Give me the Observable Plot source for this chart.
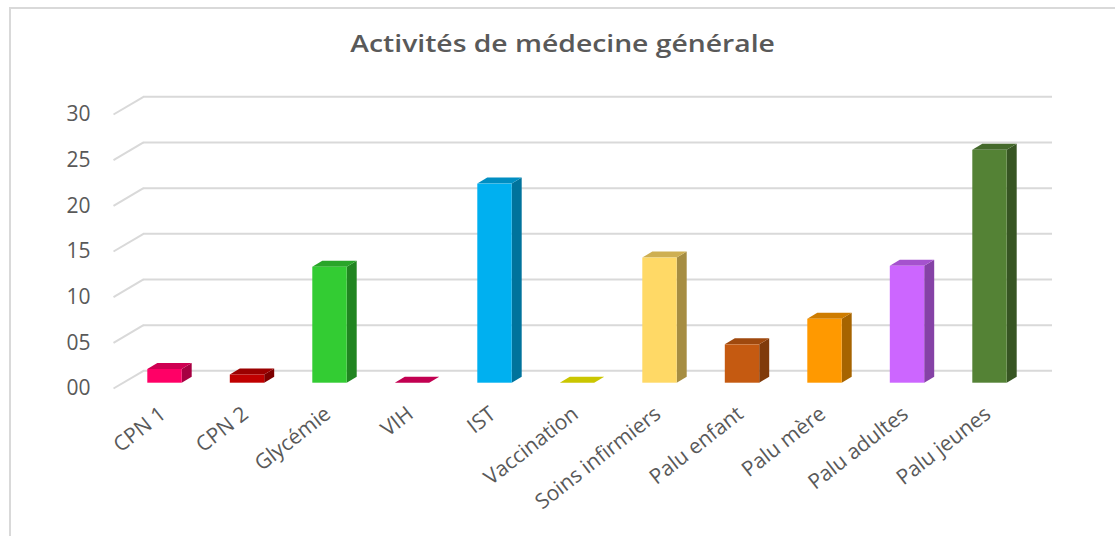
<!DOCTYPE html>
<html>
<head>
<meta charset="utf-8">
<script src="https://cdn.jsdelivr.net/npm/d3@7"></script>
<script src="https://cdn.jsdelivr.net/npm/@observablehq/plot@0.6"></script>
<style>
  html, body { margin: 0; padding: 0; background: #fff; overflow: hidden; }
  body { width: 1115px; height: 536px; position: relative; font-family: "Open Sans", sans-serif; }
  #frame { position: absolute; left: 9px; top: 7px; width: 1130px; height: 560px; border: 2px solid #d9d9d9; box-sizing: border-box; }
  #title { position: absolute; top: 27px; left: 0; width: 1115px; text-align: center; font-size: 23px; font-weight: 600; color: #595959; }
  #title span { display: inline-block; transform: scaleX(1.23); transform-origin: center; margin-left: 11px; }
  #chart { position: absolute; left: 0; top: 70px; }
</style>
</head>
<body>
<div id="frame"></div>
<div id="title"><span>Activités de médecine générale</span></div>
<div id="chart"></div>
<script>
// ---- data ----
const categories = ["CPN 1", "CPN 2", "Glycémie", "VIH", "IST", "Vaccination", "Soins infirmiers", "Palu enfant", "Palu mère", "Palu adultes", "Palu jeunes"];
const values = [1.5, 0.9, 12.7, 0, 21.8, 0, 13.7, 4.2, 7.0, 12.8, 25.5];
const yTicks = [0, 5, 10, 15, 20, 25, 30];
const yTickLabels = ["00", "05", "10", "15", "20", "25", "30"];

// ---- palette (front faces) ----
const palette = ["#ff0066", "#c00000", "#33cc33", "#f00064", "#00b0f0", "#faf500", "#ffd966", "#c55a11", "#ff9900", "#cc66ff", "#548235"];

// ---- layout (pixels) ----
const W = 1115, H = 466;
const step = 82.5;          // px between category centres
const c0 = 164.5;           // page x of first bar centre
const pxPerUnit = 9.133;    // px per value unit
const ML = 100, MR = 55;
const baseSvg = 312.7;      // svg y of value 0 on the bars' front plane
const marginBottom = H - baseSvg;
const marginTop = baseSvg - 30 * pxPerUnit;

const toX = px => px / step;
const toY = px => px / pxPerUnit;

const hw = toX(17.2);          // half bar width
const dX = toX(10), dY = toY(6);  // bar depth
const backX1 = toX(143 - c0), backX2 = toX(1052 - c0);
const frontX = toX(113 - c0);
const backDy = toY(12.4), frontDy = toY(5.3);

const bars = categories.map((cat, i) => {
  const c = d3.color(palette[i]);
  return {cat, i, v: values[i],
    front: c.formatHex(),
    side: c.darker(1.2).formatHex(),
    top: c.darker(0.6).formatHex()};
});

const sidePts = bars.flatMap(d => [
  {cat: d.cat, x: d.i + hw, y1: 0, y2: d.v, fill: d.side},
  {cat: d.cat, x: d.i + hw + dX, y1: dY, y2: d.v + dY, fill: d.side}
]);
const topPts = bars.flatMap(d => [
  {cat: d.cat, x: d.i - hw, y1: d.v, y2: d.v, fill: d.top},
  {cat: d.cat, x: d.i - hw + dX, y1: d.v, y2: d.v + dY, fill: d.top},
  {cat: d.cat, x: d.i + hw, y1: d.v, y2: d.v + dY, fill: d.top},
  {cat: d.cat, x: d.i + hw + dX, y1: d.v + dY, y2: d.v + dY, fill: d.top}
]);

const plot = Plot.plot({
  width: W, height: H,
  marginLeft: ML, marginRight: MR, marginTop, marginBottom,
  style: {fontFamily: "'Open Sans', sans-serif", color: "#595959", background: "transparent", overflow: "visible"},
  x: {type: "linear", domain: [toX(ML - c0), toX(W - MR - c0)], axis: null},
  y: {domain: [0, 30], axis: null},
  color: {type: "identity"},
  marks: [
    Plot.ruleY(yTicks, {y: d => d + backDy, x1: backX1, x2: backX2, stroke: "#d9d9d9", strokeWidth: 2}),
    Plot.link(yTicks, {x1: frontX, y1: d => d - frontDy, x2: backX1, y2: d => d + backDy, stroke: "#d9d9d9", strokeWidth: 2}),
    Plot.axisY(yTicks, {tickFormat: d => yTickLabels[yTicks.indexOf(d)], tickSize: 0, tickPadding: 10, dy: 5.3, fontSize: 21, fill: "#595959", label: null}),
    Plot.axisX(categories.map((_, i) => i), {tickFormat: i => categories[i], tickRotate: -38, tickSize: 0, tickPadding: 28, dx: -2, fontSize: 21, fill: "#595959", label: null}),
    Plot.areaY(sidePts, {x: "x", y1: "y1", y2: "y2", z: "cat", fill: "fill"}),
    Plot.areaY(topPts, {x: "x", y1: "y1", y2: "y2", z: "cat", fill: "fill"}),
    Plot.rect(bars, {x1: d => d.i - hw, x2: d => d.i + hw, y1: 0, y2: "v", fill: "front"})
  ]
});
document.getElementById("chart").appendChild(plot);
</script>
</body>
</html>
